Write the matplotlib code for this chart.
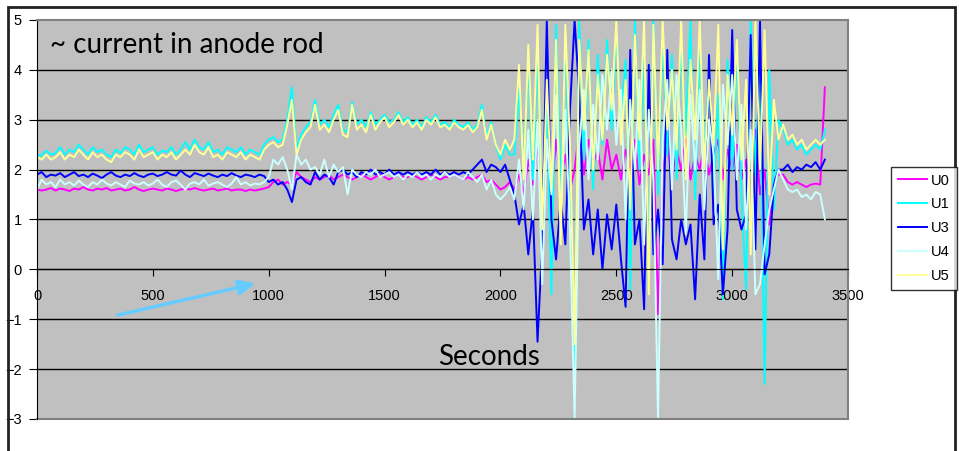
import numpy as np
import matplotlib.pyplot as plt
from matplotlib.patches import Rectangle

plt.rcParams['font.family'] = ['Liberation Sans', 'DejaVu Sans']

# sample times (s), one reading every 20 s
seconds = np.arange(0, 3401, 20)

# U0 (magenta)
u0 = [1.6, 1.58, 1.6, 1.63, 1.58, 1.62, 1.6, 1.57, 1.62, 1.6, 1.65, 1.6, 1.58, 1.62, 1.6, 1.63, 1.58, 1.6, 1.62, 1.58,
      1.6, 1.65, 1.6, 1.57, 1.6, 1.62, 1.6, 1.58, 1.62, 1.6, 1.57, 1.6, 1.62, 1.6, 1.63, 1.6, 1.58, 1.6, 1.62, 1.58,
      1.6, 1.62, 1.58, 1.6, 1.6, 1.57, 1.6, 1.58, 1.6, 1.62,
      1.65, 1.75, 1.8, 1.7, 1.75, 1.7, 1.95, 1.85, 1.8, 1.75, 1.85, 1.8, 1.85, 1.9, 1.8, 1.85, 1.9, 1.85, 1.8, 1.85,
      1.9, 1.85, 1.8, 1.85, 1.9, 1.85, 1.8, 1.85, 1.9, 1.85, 1.85, 1.9, 1.85, 1.8, 1.85, 1.9, 1.85, 1.8, 1.85, 1.85,
      1.9, 1.85, 1.8, 1.85, 1.8, 1.85, 1.9, 1.75, 1.8, 1.7, 1.6, 1.65, 1.75,
      1.6, 1.9, 1.5, 2.2, 1.7, 2.5, 1.8, 2.4, 1.5, 2.6, 1.8, 2.3, 1.6, 2.0, 2.8, 1.9, 2.6, 2.1, 2.4, 1.8,
      2.6, 2.0, 2.3, 1.8, 2.4, 2.0, 2.6, 1.7, 2.3, 1.9, 2.6, -0.9, 2.0, 2.5, 1.8, 2.4, 2.0, 2.6, 1.8, 2.3,
      2.0, 2.5, 1.9, 2.3, 2.6, 1.8, 2.4, 2.0, 2.5, 1.8, 2.2, 0.6, 2.8, 1.5, 2.0, 0.9, 1.8, 1.9,
      1.9, 1.75, 1.7, 1.75, 1.7, 1.65, 1.7, 1.72, 1.7, 3.65]

# U1 (cyan)
u1 = [2.3, 2.28, 2.38, 2.3, 2.33, 2.45, 2.3, 2.4, 2.35, 2.5, 2.4, 2.3, 2.45, 2.35, 2.4, 2.3, 2.25, 2.4, 2.33, 2.45,
      2.4, 2.3, 2.5, 2.35, 2.4, 2.45, 2.3, 2.38, 2.35, 2.45, 2.3, 2.4, 2.55, 2.4, 2.6, 2.45, 2.4, 2.55, 2.35, 2.4,
      2.3, 2.45, 2.4, 2.35, 2.45, 2.3, 2.4, 2.35, 2.3, 2.5,
      2.6, 2.65, 2.55, 2.6, 3.0, 3.65, 2.4, 2.7, 2.85, 2.95, 3.4, 2.9, 3.0, 2.85, 3.1, 3.3, 2.8, 2.75, 3.35, 2.9,
      3.0, 2.85, 3.15, 2.9, 3.0, 3.1, 2.95, 3.0, 3.15, 2.95, 3.05, 2.9, 3.0, 2.85, 3.05, 2.95, 3.1, 2.9, 2.95, 2.85,
      3.0, 2.9, 2.85, 2.95, 2.8, 2.9, 3.3, 2.65, 2.95, 2.5, 2.2, 2.5, 2.3,
      2.3, 3.6, 2.0, 4.2, 1.8, 4.4, 1.2, 3.5, -0.5, 4.9, 1.5, 4.5, 2.0, -2.1, 5.0, 2.2, 4.6, 1.6, 4.3, 2.5,
      4.6, 2.8, 4.8, 3.0, 4.2, -0.4, 5.0, 2.0, 4.4, -0.3, 5.0, 1.5, 4.8, 2.3, 4.3, 1.8, 4.6, 2.7, 5.0, 1.4,
      4.5, 2.2, 4.0, 1.5, 3.5, -0.6, 4.2, 2.0, 4.5, 1.5, -0.4, 5.0, 1.9, 4.3, -2.3, 4.0, 1.2, 3.0,
      2.8, 2.5, 2.6, 2.4, 2.5, 2.3, 2.4, 2.5, 2.4, 2.8]

# U3 (blue)
u3 = [1.9, 1.95, 1.85, 1.9, 1.88, 1.93, 1.85, 1.9, 1.95, 1.87, 1.9, 1.85, 1.92, 1.88, 1.83, 1.9, 1.95, 1.88, 1.85, 1.9,
      1.87, 1.93, 1.88, 1.85, 1.9, 1.92, 1.87, 1.9, 1.95, 1.9, 1.88, 1.98, 1.9, 1.85, 1.93, 1.9, 1.87, 1.92, 1.88, 1.85,
      1.9, 1.87, 1.93, 1.88, 1.85, 1.9, 1.88, 1.85, 1.9, 1.87,
      1.75, 1.8, 1.7, 1.75, 1.6, 1.35, 1.8, 1.85, 1.75, 1.7, 1.95, 1.8, 1.9, 1.85, 1.7, 1.95, 2.0, 1.9, 1.95, 1.85,
      1.95, 1.9, 2.0, 1.9, 1.95, 1.9, 2.0, 1.9, 1.95, 1.9, 1.95, 1.9, 1.95, 1.9, 1.95, 1.9, 2.0, 1.9, 1.95, 1.9,
      1.95, 1.9, 1.95, 1.9, 2.0, 2.1, 2.2, 1.95, 2.1, 2.05, 1.95, 2.1, 1.8,
      1.5, 0.9, 1.3, 0.3, 1.2, -1.45, 0.5, 5.0, 1.0, 0.2, 1.4, 0.5, 3.2, 5.0, 3.5, 0.8, 1.4, 0.3, 1.2, 0.0,
      1.1, 0.4, 1.3, 0.2, -0.75, 4.4, 0.5, 1.0, -0.8, 4.1, 0.3, 1.2, 0.1, 4.4, 0.6, 0.2, 1.0, 0.5, 0.9, -0.6,
      1.5, 0.2, 4.3, 0.9, 1.3, -0.5, 0.8, 4.8, 1.2, 0.8, 1.1, 4.7, 0.4, 5.0, -0.1, 0.3, 1.7, 2.0,
      2.0, 2.1, 1.95, 2.05, 2.0, 2.1, 2.05, 2.15, 2.0, 2.2]

# U4 (pale cyan)
u4 = [1.6, 1.8, 1.7, 1.75, 1.65, 1.8, 1.7, 1.75, 1.68, 1.78, 1.7, 1.65, 1.75, 1.7, 1.8, 1.72, 1.68, 1.75, 1.7, 1.65,
      1.78, 1.72, 1.7, 1.75, 1.68, 1.72, 1.8, 1.7, 1.65, 1.75, 1.78, 1.7, 1.6, 1.72, 1.75, 1.7, 1.8, 1.68, 1.72, 1.75,
      1.7, 1.65, 1.72, 1.85, 1.7, 1.75, 1.68, 1.72, 1.7, 1.75,
      1.85, 2.2, 2.1, 2.25, 2.0, 1.6, 2.3, 2.1, 2.2, 2.0, 2.05, 1.9, 2.2, 1.85, 2.1, 1.95, 2.05, 1.5, 2.0, 1.9,
      1.85, 1.95, 1.9, 2.0, 1.85, 1.9, 1.95, 1.85, 1.9, 1.8, 1.9, 1.85, 1.95, 1.85, 1.9, 1.8, 1.9, 1.85, 1.95, 1.85,
      1.9, 1.85, 1.8, 1.95, 1.85, 1.75, 1.9, 1.6, 1.8, 1.5, 1.4, 1.5, 1.65,
      1.4, 2.2, 1.2, 2.8, 1.0, 3.0, -0.3, 2.6, 1.5, 3.5, 1.0, 3.2, 0.8, -3.0, 2.5, 3.6, 1.8, 3.3, 2.2, 3.9,
      2.8, 4.0, 2.5, 3.6, 1.0, 3.4, 2.0, 3.8, 0.5, 3.2, 1.8, -3.0, 2.6, 3.8, 1.6, 3.9, 2.8, 0.7, 3.5, 2.0,
      3.6, 1.2, 3.0, 2.3, -0.2, 3.7, 2.5, 3.9, 1.8, 3.3, 0.8, 2.8, -0.5, -0.3, 0.5, 1.2, 1.6, 2.0,
      1.8, 1.6, 1.55, 1.6, 1.45, 1.5, 1.4, 1.55, 1.5, 1.0]

# U5 (pale yellow)
u5 = [2.25, 2.2, 2.3, 2.2, 2.25, 2.35, 2.2, 2.3, 2.25, 2.4, 2.3, 2.2, 2.35, 2.25, 2.3, 2.2, 2.15, 2.3, 2.25, 2.35,
      2.3, 2.2, 2.4, 2.25, 2.3, 2.35, 2.2, 2.3, 2.25, 2.35, 2.2, 2.3, 2.4, 2.3, 2.5, 2.35, 2.3, 2.45, 2.25, 2.3,
      2.2, 2.35, 2.3, 2.25, 2.35, 2.2, 2.3, 2.25, 2.2, 2.4,
      2.5, 2.55, 2.45, 2.5, 2.9, 3.4, 2.3, 2.6, 2.75, 2.85, 3.3, 2.8, 2.9, 2.75, 3.0, 3.2, 2.7, 2.65, 3.3, 2.8,
      2.9, 2.75, 3.1, 2.8, 2.95, 3.05, 2.85, 2.95, 3.1, 2.9, 3.0, 2.85, 2.95, 2.8, 3.0, 2.9, 3.05, 2.85, 2.9, 2.8,
      2.95, 2.85, 2.8, 2.9, 2.75, 2.85, 3.2, 2.6, 2.9, 2.5, 2.3, 2.6, 2.4,
      2.6, 4.1, 1.8, 4.5, 2.2, 4.9, 0.8, 3.8, 1.6, 4.6, 0.5, 4.9, 2.5, -1.5, 4.6, 2.8, 4.4, 2.0, 3.9, 2.6,
      4.3, 3.2, 5.0, 2.5, 3.8, 1.2, 4.7, 2.6, 5.0, -0.5, 4.9, 2.0, 5.0, 2.8, 4.0, 2.4, 5.0, 1.8, 4.2, 2.6,
      5.0, 2.0, 3.8, 2.5, 4.9, 0.4, 3.9, 2.7, 4.6, 2.2, 3.8, 0.3, 5.0, 2.0, 4.8, 1.5, 3.4, 2.6,
      2.9, 2.6, 2.7, 2.5, 2.6, 2.4, 2.5, 2.6, 2.5, 2.6]

series_names = ['U0', 'U1', 'U3', 'U4', 'U5']
series_colors = ['#FF00FF', '#00FFFF', '#0000FF', '#CCFFFF', '#FFFF99']
x_ticks = [0, 500, 1000, 1500, 2000, 2500, 3000, 3500]
y_ticks = [-3, -2, -1, 0, 1, 2, 3, 4, 5]

fig = plt.figure(figsize=(9.59, 4.51), dpi=100)
ax = fig.add_axes([0.0386, 0.071, 0.8457, 0.8847])
ax.set_facecolor('#C0C0C0')

ax.hlines(y_ticks[1:-1], 0, 3500, color='black', lw=1, zorder=1)

for vals, name, col in zip([u0, u1, u3, u4, u5], series_names, series_colors):
    ax.plot(seconds, vals, color=col, lw=1.4, label=name, zorder=2)

ax.set_xlim(0, 3500)
ax.set_ylim(-3, 5)
ax.set_xticks(x_ticks)
ax.set_yticks(y_ticks)
ax.tick_params(axis='x', direction='out', length=5, pad=9, labelsize=10.5)
ax.tick_params(axis='y', direction='out', length=6, pad=5, labelsize=10.5)

ax.spines['bottom'].set_position(('data', 0))
ax.spines['left'].set_color('black')
for s in ['top', 'right']:
    ax.spines[s].set_color('#808080')
    ax.spines[s].set_linewidth(1.5)
ax.plot([0, 1], [0, 0], transform=ax.transAxes, color='#808080', lw=1.5, clip_on=False)

fig.text(50 / 959, 1 - 53 / 451, '~ current in anode rod', fontsize=20, family='Lato', va='baseline')
fig.text(438 / 959, 1 - 365 / 451, 'Seconds', fontsize=20, family='Lato', va='baseline')

ax.annotate('', xy=(955, -0.27), xytext=(337, -0.93),
            arrowprops=dict(arrowstyle='-|>,head_length=1.0,head_width=0.45', color='#66CCFF', lw=2.5))

leg = fig.legend(loc='upper left', bbox_to_anchor=(891 / 959, 1 - 167 / 451), fontsize=10.5,
                 frameon=True, fancybox=False, edgecolor='black', handlelength=2.0,
                 labelspacing=0.68, borderpad=0.45, handletextpad=0.3, borderaxespad=0)
leg.get_frame().set_linewidth(1)

fig.patches.append(Rectangle((8 / 959, -0.05), 947 / 959, 1.0345, transform=fig.transFigure,
                             fill=False, ec='#222222', lw=2))

fig.savefig('out.png', dpi=100)
